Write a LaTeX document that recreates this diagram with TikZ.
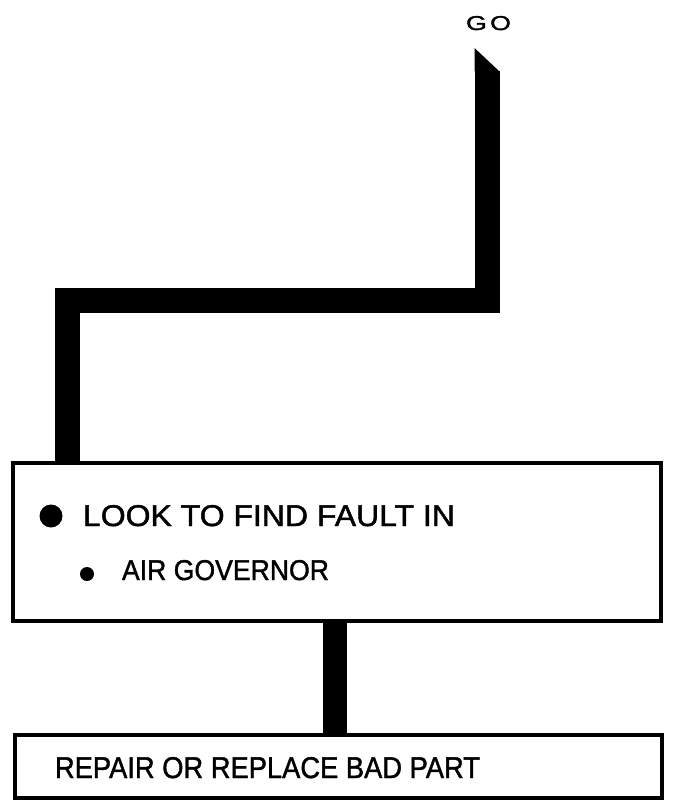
\documentclass[tikz,border=0pt]{standalone}
\usepackage{fontspec}
\setmainfont{Liberation Sans}[FakeBold=1.4,AutoFakeBold=1.4]
\usepackage{graphicx}
\begin{document}
\begin{tikzpicture}[x=1pt,y=-1pt,
  box/.style={draw=black,line width=3.5pt,rectangle,inner sep=0pt},
  bar/.style={draw=black,line width=25pt,line join=miter},
  lbl/.style={anchor=base west,inner sep=0pt,outer sep=0pt,font=\bfseries},
  dot/.style={circle,fill=black,inner sep=0pt}]
\useasboundingbox (0,0) rectangle (676,802);
\fill[white] (0,0) rectangle (676,802);
% boxes
\node[box,minimum width=648pt,minimum height=158pt] (look) at (337,542) {};
\node[box,minimum width=647pt,minimum height=63pt] (repair) at (338.5,766.5) {};
% texts
\node[lbl] (go) at (466,30) {\resizebox{45pt}{14pt}{G\kern0.12em O}};
\node[dot,minimum size=23pt] (b1) at (51,516) {};
\node[lbl] (t1) at (83,526) {\resizebox{372pt}{21pt}{LOOK TO FIND FAULT IN}};
\node[dot,minimum size=14pt] (b2) at (87,574) {};
\node[lbl] (t2) at (122,580) {\resizebox{207pt}{20pt}{AIR GOVERNOR}};
\node[lbl] (t3) at (55,778) {\resizebox{425pt}{21pt}{REPAIR OR REPLACE BAD PART}};
% connectors
\coordinate (start) at (487,71);
\coordinate (lowx) at (335,0);
\fill[black] (474.5,48) -- (499.5,71.5) -- (474.5,71.5) -- cycle;
\draw[bar] (start) -- (487,300) -- (67.5,300) -- (67.5,0 |- look.north);
\draw[line width=24pt] (lowx |- look.south) -- (lowx |- repair.north);
\end{tikzpicture}
\end{document}
